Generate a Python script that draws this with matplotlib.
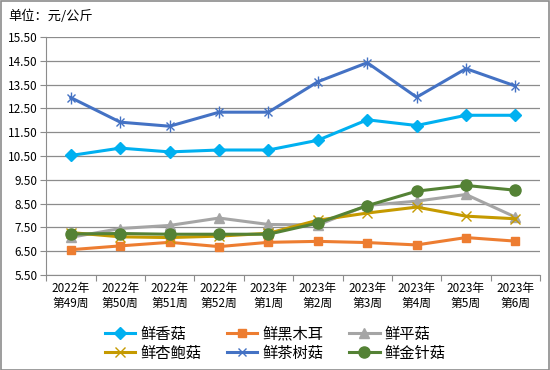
import matplotlib
matplotlib.use("Agg")
import matplotlib.pyplot as plt
from matplotlib.ticker import FixedLocator, NullFormatter

plt.rcParams['font.family'] = ['Noto Sans CJK SC', 'DejaVu Sans']

weeks = ["2022年\n第49周", "2022年\n第50周", "2022年\n第51周", "2022年\n第52周", "2023年\n第1周",
         "2023年\n第2周", "2023年\n第3周", "2023年\n第4周", "2023年\n第5周", "2023年\n第6周"]

xianggu = [10.52, 10.83, 10.67, 10.75, 10.75, 11.16, 12.02, 11.78, 12.21, 12.21]
heimuer = [6.56, 6.72, 6.87, 6.69, 6.87, 6.91, 6.86, 6.76, 7.07, 6.92]
pinggu = [7.08, 7.45, 7.58, 7.89, 7.62, 7.60, 8.42, 8.60, 8.88, 7.93]
xingbaogu = [7.28, 7.10, 7.07, 7.13, 7.25, 7.80, 8.10, 8.35, 7.97, 7.86]
chashugu = [12.95, 11.92, 11.75, 12.34, 12.34, 13.62, 14.42, 12.97, 14.17, 13.44]
jinzhengu = [7.22, 7.24, 7.21, 7.21, 7.21, 7.68, 8.41, 9.02, 9.26, 9.06]

series = [
    ("鲜香菇", xianggu, "#00B0F0", "D", 6),
    ("鲜黑木耳", heimuer, "#ED7D31", "s", 6),
    ("鲜平菇", pinggu, "#A5A5A5", "^", 7),
    ("鲜杏鲍菇", xingbaogu, "#C59A00", "x", 7),
    ("鲜茶树菇", chashugu, "#4472C4", "x", 6),
    ("鲜金针菇", jinzhengu, "#548235", "o", 8),
]

fig = plt.figure(figsize=(5.5, 3.7), dpi=100)
ax = fig.add_axes([0.084, 0.257, 0.898, 0.643])

x = list(range(len(weeks)))
handles = {}
for name, vals, color, mk, ms in series:
    if name == "鲜茶树菇":
        # asterisk-like marker: x plus a vertical bar
        h, = ax.plot(x, vals, color=color, lw=2.2, marker="x", ms=ms, mew=1.0, label=name)
        ax.plot(x, vals, color=color, lw=0, marker="|", ms=ms + 2, mew=1.0)
    elif mk == "x":
        h, = ax.plot(x, vals, color=color, lw=2.2, marker=mk, ms=ms, mew=1.0, label=name)
    else:
        h, = ax.plot(x, vals, color=color, lw=2.2, marker=mk, ms=ms, label=name)
    handles[name] = h

ax.set_xlim(-0.5, len(weeks) - 0.5)
ax.set_ylim(5.5, 15.5)
ax.set_yticks([5.5 + i for i in range(11)])
ax.set_yticklabels(["%.2f" % (5.5 + i) for i in range(11)], fontsize=8.5)
ax.yaxis.grid(True, color="#8C8C8C", lw=0.9)
ax.set_axisbelow(True)

ax.xaxis.set_major_locator(FixedLocator([i - 0.5 for i in range(len(weeks) + 1)]))
ax.xaxis.set_major_formatter(NullFormatter())
ax.xaxis.set_minor_locator(FixedLocator(x))
ax.set_xticklabels(weeks, minor=True, fontsize=8.5, linespacing=1.25)
ax.tick_params(axis="x", which="minor", length=0, pad=5)
ax.tick_params(axis="x", which="major", length=4, color="#8C8C8C")
ax.tick_params(axis="y", length=4, color="#8C8C8C", pad=2)

for s in ["top", "right"]:
    ax.spines[s].set_visible(False)
for s in ["left", "bottom"]:
    ax.spines[s].set_color("#8C8C8C")

# legend fills column by column; order so rows read as in the reference
order = ["鲜香菇", "鲜杏鲍菇", "鲜黑木耳", "鲜茶树菇", "鲜平菇", "鲜金针菇"]
fig.legend([handles[n] for n in order], order, loc="lower center", ncol=3,
           bbox_to_anchor=(0.5, -0.015), frameon=False, fontsize=11,
           handlelength=2.0, handletextpad=0.3, columnspacing=1.7, labelspacing=0.15)

fig.text(0.015, 0.955, "单位：元/公斤", fontsize=9.5, va="center")

fig.patches.append(plt.Rectangle((0.001, 0.001), 0.997, 0.997, transform=fig.transFigure,
                                 fill=False, edgecolor="#8C8C8C", lw=1.2))

fig.savefig("out.png", dpi=100)
